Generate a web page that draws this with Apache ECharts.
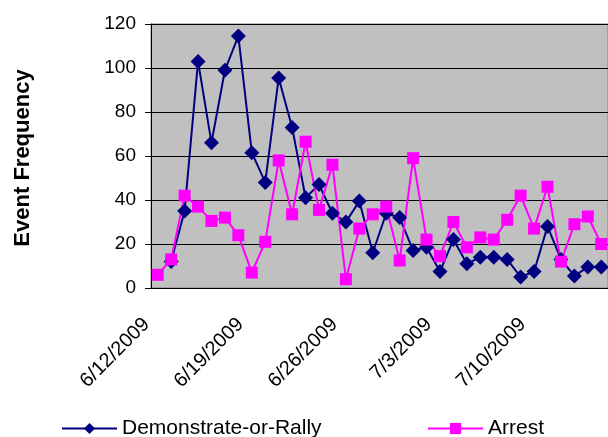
<!DOCTYPE html>
<html>
<head>
<meta charset="utf-8">
<script src="https://cdn.jsdelivr.net/npm/echarts@6/dist/echarts.min.js"></script>
<style>html,body{margin:0;padding:0;background:#fff}#c{width:608px;height:437px}</style>
</head>
<body>
<div id="c"></div>
<script>
var dates = ['6/12/2009','6/13/2009','6/14/2009','6/15/2009','6/16/2009','6/17/2009','6/18/2009',
  '6/19/2009','6/20/2009','6/21/2009','6/22/2009','6/23/2009','6/24/2009','6/25/2009',
  '6/26/2009','6/27/2009','6/28/2009','6/29/2009','6/30/2009','7/1/2009','7/2/2009',
  '7/3/2009','7/4/2009','7/5/2009','7/6/2009','7/7/2009','7/8/2009','7/9/2009',
  '7/10/2009','7/11/2009','7/12/2009','7/13/2009','7/14/2009','7/15/2009'];
var demonstrate = [null,12,35,103,66,99,114.5,61.5,48,95.5,73,41,47,34,30,39.5,16,34,32,17,18.5,7.5,22,11,14,14,13,5,7.5,28,13,5.5,9.5,9.5];
var arrest = [6,13,42,37,30.5,32,24,7,21,58,33.5,66.5,35.5,56,4,27,33.5,37,12.5,59,22,14.5,30,18.5,23,22,31,42,27,46,12,29,32.5,20];
var yTicks = {min:0, max:120, interval:20};

var chart = echarts.init(document.getElementById('c'));
var font = 'Liberation Sans, Arial, sans-serif';
chart.setOption({
  animation:false,
  grid:{left:151, top:24, width:458, height:264, show:true, backgroundColor:'#c0c0c0', borderColor:'#808080', borderWidth:1},
  graphic:[{type:'text', x:23, y:158, rotation:Math.PI/2,
    style:{text:'Event Frequency', font:'bold 22px '+font, fill:'#000', textAlign:'center', textVerticalAlign:'middle'}}],
  legend:[
    {data:['Demonstrate-or-Rally'], left:56, top:413, itemWidth:55, itemHeight:14, itemGap:8,
     textStyle:{fontFamily:font, fontSize:21, color:'#000'}},
    {data:['Arrest'], left:422, top:413, itemWidth:55, itemHeight:14, itemGap:8,
     textStyle:{fontFamily:font, fontSize:21, color:'#000'}}
  ],
  xAxis:{type:'category', data:dates, boundaryGap:true,
    axisLine:{lineStyle:{color:'#000', width:1}},
    axisTick:{interval:6, length:6, lineStyle:{color:'#000'}},
    axisLabel:{interval:6, rotate:45, margin:22, padding:[0,16,0,0], fontFamily:font, fontSize:20, color:'#000'},
    splitLine:{show:false}},
  yAxis:{type:'value', min:yTicks.min, max:yTicks.max, interval:yTicks.interval,
    axisLine:{show:true, lineStyle:{color:'#000'}},
    axisTick:{show:true, length:6, lineStyle:{color:'#000'}},
    axisLabel:{margin:15, fontFamily:font, fontSize:19, color:'#000'},
    splitLine:{lineStyle:{color:'#000', width:1}}},
  series:[
    {name:'Demonstrate-or-Rally', type:'line', data:demonstrate, symbol:'diamond', symbolSize:15, showAllSymbol:true,
     lineStyle:{color:'#000080', width:2}, itemStyle:{color:'#000080'}, connectNulls:false},
    {name:'Arrest', type:'line', data:arrest, symbol:'rect', symbolSize:12, showAllSymbol:true,
     lineStyle:{color:'#ff00ff', width:2}, itemStyle:{color:'#ff00ff'}}
  ]
});
</script>
</body>
</html>
